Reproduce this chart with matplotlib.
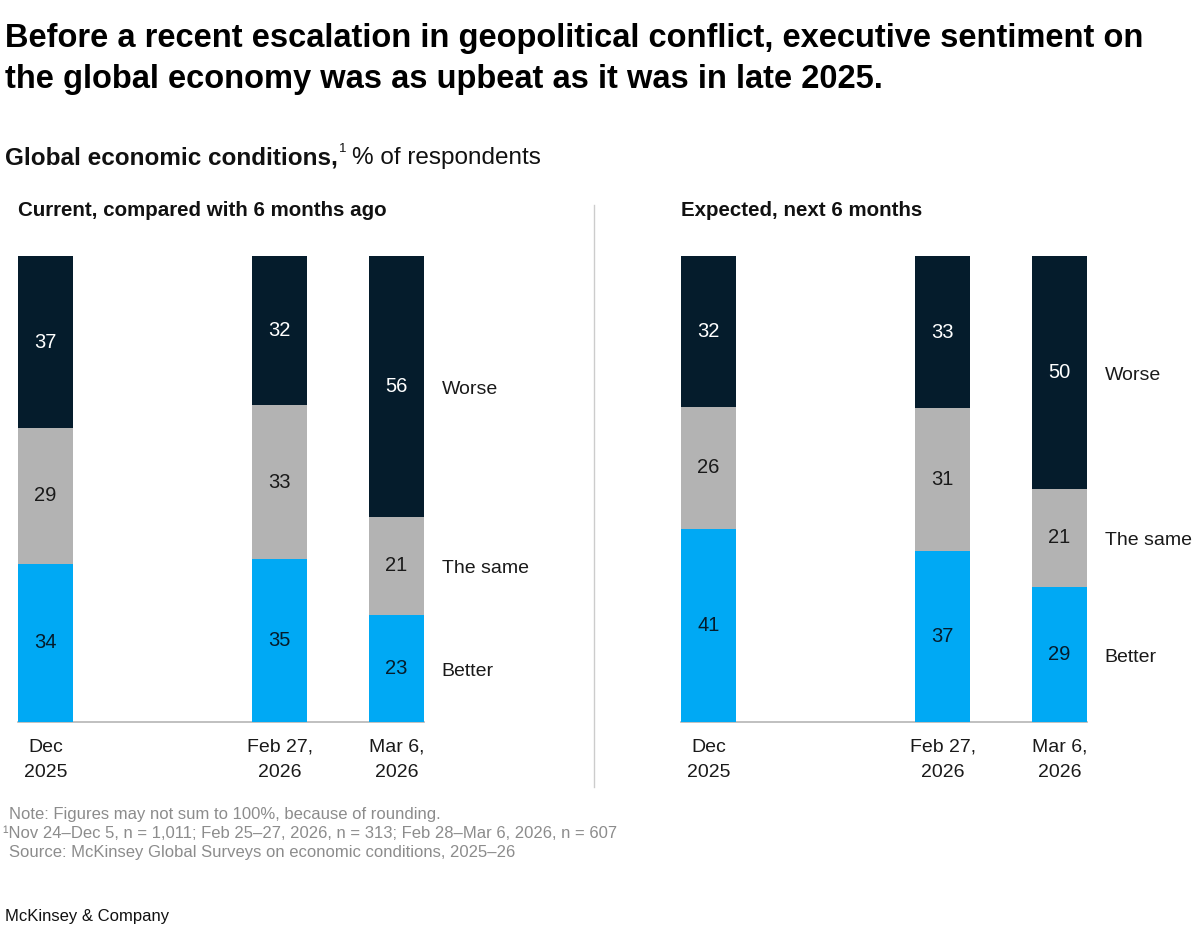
import matplotlib.pyplot as plt
import numpy as np

# data
periods = ["Dec\n2025", "Feb 27,\n2026", "Mar 6,\n2026"]
period_pos = [0, 2, 3]
segments = ["Better", "The same", "Worse"]

current_better = [34, 35, 23]
current_same = [29, 33, 21]
current_worse = [37, 32, 56]

expected_better = [41, 37, 29]
expected_same = [26, 31, 21]
expected_worse = [32, 33, 50]

colors = ["#00A9F4", "#B3B3B3", "#051C2C"]
text_colors = ["#051C2C", "#1a1a1a", "white"]

plt.rcParams["font.family"] = ["Liberation Sans", "DejaVu Sans"]

W, H = 1200, 948
fig = plt.figure(figsize=(12, 9.48), dpi=100)


def px(x, y):
    return x / W, 1 - y / H


def draw_panel(left_px, title, better, same, worse):
    ax = fig.add_axes([left_px / W, (H - 722) / H, 406 / W, 466 / H])
    series = [np.array(better, float), np.array(same, float), np.array(worse, float)]
    total = series[0] + series[1] + series[2]
    bottom = np.zeros(len(period_pos))
    for vals, c, tc, name in zip(series, colors, text_colors, segments):
        h = vals / total * 100
        ax.bar(period_pos, h, bottom=bottom, width=0.47, color=c, zorder=2)
        for x, b, hh, v in zip(period_pos, bottom, h, vals):
            ax.text(x, b + hh / 2, f"{int(v)}", ha="center", va="center",
                    color=tc, fontsize=14.5, zorder=3)
        # series label next to last bar
        ax.text(period_pos[-1] + 0.385, bottom[-1] + h[-1] / 2 - 0.6, name,
                ha="left", va="center", fontsize=14, color="#1a1a1a")
        bottom = bottom + h
    ax.axhline(0, color="#b5b5b5", lw=1.2, zorder=1, clip_on=False)
    ax.set_xlim(-0.235, 3.235)
    ax.set_ylim(0, 100)
    ax.set_xticks(period_pos)
    ax.set_xticklabels(periods, fontsize=14, color="#1a1a1a", linespacing=1.65)
    ax.tick_params(axis="x", length=0, pad=12)
    ax.set_yticks([])
    for s in ax.spines.values():
        s.set_visible(False)
    fig.text(*px(left_px, 210), title, fontsize=14.8, fontweight="bold",
             va="center", ha="left", color="#111111")
    return ax


draw_panel(18, "Current, compared with 6 months ago",
           current_better, current_same, current_worse)
draw_panel(681, "Expected, next 6 months",
           expected_better, expected_same, expected_worse)

# divider
fig.add_artist(plt.Line2D([594 / W, 594 / W], [1 - 205 / H, 1 - 787 / H],
                          color="#cccccc", lw=1))

# title
fig.text(*px(5, 59), "Before a recent escalation in geopolitical conflict, executive sentiment on\n"
         "the global economy was as upbeat as it was in late 2025.",
         fontsize=23.5, fontweight="bold", va="center", ha="left",
         color="#000000", linespacing=1.4)

# subtitle with superscript
t1 = fig.text(*px(5, 158), "Global economic conditions,", fontsize=17.5,
              fontweight="bold", va="center", ha="left", color="#111111")
fig.canvas.draw()
bb = t1.get_window_extent()
x_end = bb.x1 / W
t2 = fig.text(x_end + 1 / W, 1 - 149 / H, "1", fontsize=9.5, va="center", ha="left",
              color="#111111")
fig.canvas.draw()
bb2 = t2.get_window_extent()
fig.text(bb2.x1 / W + 6 / W, 1 - 158 / H, "% of respondents", fontsize=17.5,
         va="center", ha="left", color="#111111")

# notes
note_color = "#8c8c8c"
fig.text(*px(9, 814), "Note: Figures may not sum to 100%, because of rounding.",
         fontsize=12, color=note_color, va="center")
fig.text(*px(3, 833), "\u00b9Nov 24\u2013Dec 5, n = 1,011; Feb 25\u201327, 2026, n = 313; "
         "Feb 28\u2013Mar 6, 2026, n = 607", fontsize=12, color=note_color, va="center")
fig.text(*px(9, 852), "Source: McKinsey Global Surveys on economic conditions, 2025\u201326",
         fontsize=12, color=note_color, va="center")

fig.text(*px(5, 917), "McKinsey & Company", fontsize=12, color="#111111", va="center")

fig.savefig("out.png", dpi=100, facecolor="white")
